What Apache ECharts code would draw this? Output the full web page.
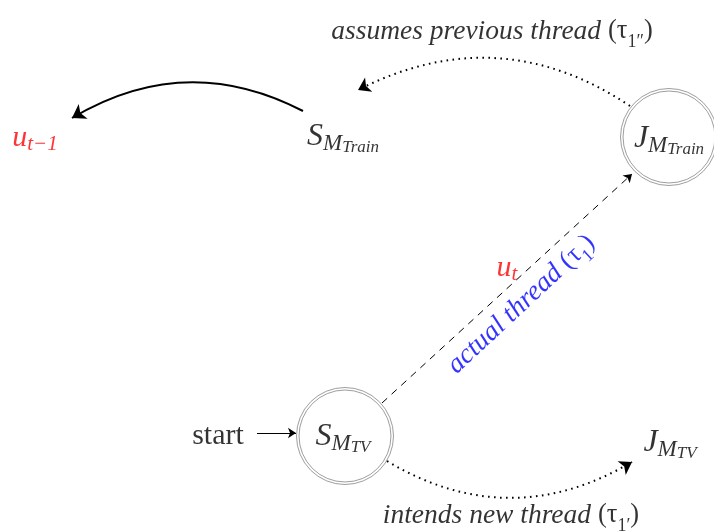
<!DOCTYPE html>
<html>
<head>
<meta charset="utf-8">
<script src="https://cdn.jsdelivr.net/npm/echarts@6/dist/echarts.min.js"></script>
<style>
  html, body { margin: 0; padding: 0; background: #fff; }
  #main { width: 714px; height: 531px; }
</style>
</head>
<body>
<div id="main"></div>
<script>
// state circles (double ring): J_{M_Train}, S_{M_TV}
const stateNames = ['J_M_Train', 'S_M_TV'];
const stateX = [669, 345];
const stateY = [137, 436];

// edges: start point, end point, bend
const edgeNames = ['S_M_Train -> u_t-1', 'J_M_Train -> S_M_Train', 'S_M_TV -> J_M_Train', 'S_M_TV -> J_M_TV', 'start -> S_M_TV'];
const edgeFrom = [[303, 111], [630, 106], [382, 403], [387, 461], [257, 433]];
const edgeTo = [[72, 118], [358, 90], [632, 174], [632, 462], [296, 433]];
const edgeBend = [-0.279, -0.293, 0, -0.297, 0];

// texts: content, position
const textKeys = ['uPrev', 'sTrain', 'jTrain', 'sTV', 'jTV', 'start', 'assumes', 'ut', 'actual', 'intends'];
const textX = [35, 343, 669, 343, 670, 218, 492, 507, 523, 511];
const textY = [138, 137, 139, 437, 443, 436, 34, 268, 306, 518];

const serif = 'Liberation Serif';
const ringPath = 'path://M0,50A50,50,0,1,1,100,50A50,50,0,1,1,0,50ZM2.6,50A47.4,47.4,0,1,1,97.4,50A47.4,47.4,0,1,1,2.6,50Z';

// subscript helpers for the math labels
function mathRich(color, big) {
  const b = big ? 32 : 30, s = big ? 23 : 21, ss = big ? 17 : 15;
  return {
    b: { fontFamily: serif, fontStyle: 'italic', fontSize: b, lineHeight: b, verticalAlign: 'top', color: color },
    s: { fontFamily: serif, fontStyle: 'italic', fontSize: s, lineHeight: s, padding: [b / 2 + 6.5 - s / 2, 0, 0, 0], verticalAlign: 'top', color: color },
    ss: { fontFamily: serif, fontStyle: 'italic', fontSize: ss, lineHeight: ss, padding: [b / 2 + 11 - ss / 2, 0, 0, 0], verticalAlign: 'top', color: color }
  };
}
function phraseRich(color) {
  return {
    p: { fontFamily: serif, fontStyle: 'italic', fontSize: 27.5, lineHeight: 32, verticalAlign: 'top', color: color },
    g: { fontFamily: serif, fontSize: 26.5, lineHeight: 32, verticalAlign: 'top', color: color },
    s: { fontFamily: serif, fontSize: 18, lineHeight: 18, padding: [15, 0, 0, 0], verticalAlign: 'top', color: color }
  };
}

const textSpec = {
  uPrev: { f: '{b|u}{s|t\u22121}', rich: mathRich('#ff0000', false) },
  sTrain: { f: '{b|S}{s|M}{ss|Train}', rich: mathRich('#000', true) },
  jTrain: { f: '{b|J}{s|M}{ss|Train}', rich: mathRich('#000', true) },
  sTV: { f: '{b|S}{s|M}{ss|TV}', rich: mathRich('#000', true) },
  jTV: { f: '{b|J}{s|M}{ss|TV}', rich: mathRich('#000', true) },
  start: { f: 'start', rich: {}, plain: true },
  assumes: { f: '{p|assumes previous thread }{g|(\u03c4}{s|1\u2033}{g|)}', rich: phraseRich('#000') },
  ut: { f: '{b|u}{s|t}', rich: mathRich('#ff0000', false) },
  actual: { f: '{p|actual thread }{g|(\u03c4}{s|1}{g|)}', rich: phraseRich('#0000ff'), rotate: 43 },
  intends: { f: '{p|intends new thread }{g|(\u03c4}{s|1\u2032}{g|)}', rich: phraseRich('#000') }
};

const chart = echarts.init(document.getElementById('main'));

const edgeStyles = [
  { type: 'solid', width: 2, arrow: 13 },
  { type: [1.6, 4.4], width: 2, arrow: 12 },
  { type: [7, 6], width: 1, arrow: 8 },
  { type: [1.6, 4.4], width: 2, arrow: 12 },
  { type: 'solid', width: 1, arrow: 8 }
];

const option = {
  animation: false,
  backgroundColor: '#fff',
  grid: { left: 0, right: 0, top: 0, bottom: 0 },
  xAxis: { type: 'value', min: 0, max: 714, show: false },
  yAxis: { type: 'value', min: 0, max: 531, inverse: true, show: false },
  series: [
    {
      name: 'states',
      type: 'scatter',
      symbol: ringPath,
      symbolSize: 97,
      itemStyle: { color: '#fff', borderColor: '#666', borderWidth: 0.8 },
      z: 2,
      data: stateNames.map((n, i) => ({ name: n, value: [stateX[i], stateY[i]] }))
    },
    {
      name: 'edges',
      type: 'lines',
      coordinateSystem: 'cartesian2d',
      z: 3,
      data: edgeNames.map((n, i) => ({
        name: n,
        coords: [edgeFrom[i], edgeTo[i]],
        symbol: ['none', 'arrow'],
        symbolSize: edgeStyles[i].arrow,
        lineStyle: {
          color: '#000',
          width: edgeStyles[i].width,
          type: edgeStyles[i].type,
          curveness: edgeBend[i],
          opacity: 1
        }
      }))
    },
    {
      name: 'texts',
      type: 'scatter',
      symbolSize: 0,
      z: 4,
      data: textKeys.map((k, i) => {
        const sp = textSpec[k];
        return {
          name: k,
          value: [textX[i], textY[i]],
          label: {
            show: true,
            position: 'inside',
            formatter: sp.f,
            rich: sp.rich,
            rotate: sp.rotate || 0,
            color: '#000',
            fontFamily: serif,
            fontSize: sp.plain ? 30 : 20
          }
        };
      })
    }
  ]
};

chart.setOption(option);
</script>
</body>
</html>
